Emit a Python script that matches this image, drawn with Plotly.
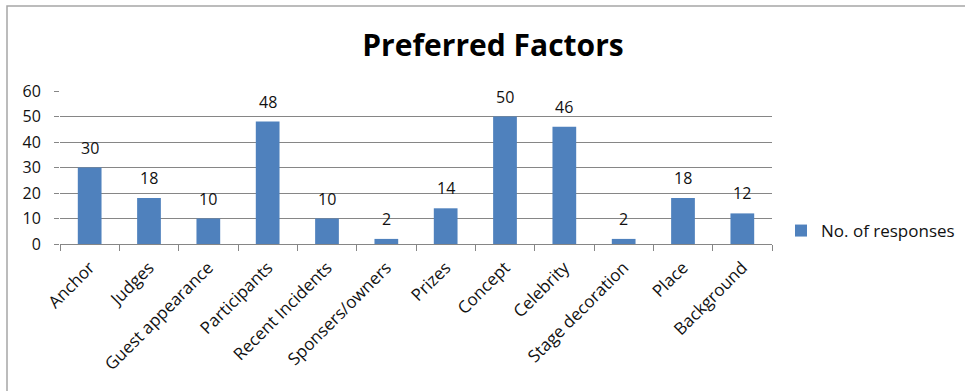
import plotly.graph_objects as go

categories = ["Anchor", "Judges", "Guest appearance", "Participants", "Recent Incidents",
              "Sponsers/owners", "Prizes", "Concept", "Celebrity", "Stage decoration",
              "Place", "Background"]
responses = [30, 18, 10, 48, 10, 2, 14, 50, 46, 2, 18, 12]
series_name = "No. of responses"
title_text = "Preferred Factors"

W, H = 965, 391
L, R, T, B = 60, 193, 91, 147
pw, ph = W - L - R, H - T - B

FONT = "Open Sans, Noto Sans, sans-serif"
BAR = "#4F81BD"
GRID = "#868686"
TXT = "#111111"

fig = go.Figure()
fig.add_trace(go.Bar(x=categories, y=responses, name=series_name,
                     marker=dict(color=BAR, line=dict(width=0)),
                     showlegend=True))

for c, v in zip(categories, responses):
    fig.add_annotation(x=c, y=v, text=str(v), showarrow=False, xref="x", yref="y",
                       yanchor="middle", yshift=20,
                       font=dict(family=FONT, size=16, color=TXT))

def px_x(p):
    return (p - L) / pw

def px_y(p):
    return (H - B - p) / ph

fig.add_shape(type="rect", xref="paper", yref="paper",
              x0=px_x(7), x1=px_x(975), y0=px_y(400), y1=px_y(6),
              line=dict(color="#A6A6A6", width=1.5), fillcolor="rgba(0,0,0,0)", layer="below")

fig.update_layout(
    width=W, height=H,
    margin=dict(l=L, r=R, t=T, b=B, autoexpand=False),
    paper_bgcolor="white", plot_bgcolor="white",
    bargap=0.6,
    title=dict(text="<b>" + title_text + "</b>", x=493 / W, xref="container", xanchor="center",
               y=1 - 45 / H, yref="container", yanchor="middle",
               font=dict(family=FONT, size=30, color="black")),
    font=dict(family=FONT, size=16, color=TXT),
    legend=dict(x=px_x(781), xanchor="left", y=px_y(231), yanchor="middle",
                font=dict(family=FONT, size=17, color=TXT),
                bgcolor="rgba(0,0,0,0)"),
    xaxis=dict(type="category", showgrid=False, showline=True, linecolor=GRID, linewidth=1,
               ticks="outside", tickson="boundaries", ticklen=6, tickcolor=GRID,
               ticklabelstandoff=6,
               tickangle=-45, tickfont=dict(family=FONT, size=17, color=TXT)),
    yaxis=dict(range=[0, 60], dtick=10, showgrid=True, gridcolor=GRID, gridwidth=1,
               zeroline=False, showline=False, ticks="outside", ticklen=5, tickcolor=GRID,
               ticklabelstandoff=10,
               tickfont=dict(family=FONT, size=16, color=TXT)),
)

fig.write_html("out.html")
